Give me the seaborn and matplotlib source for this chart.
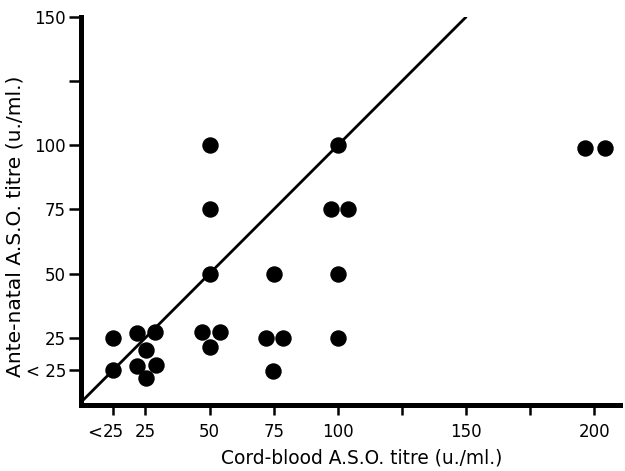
import matplotlib
matplotlib.use("Agg")
import matplotlib.pyplot as plt
import seaborn as sns
import pandas as pd

sns.set_theme(style="white")
plt.rcParams['font.family'] = ['DejaVu Sans']

# Data (cord-blood titre, ante-natal titre); "<25" plotted at 12.5
cord = [12.5, 12.5, 21.7, 28.6, 25.3, 21.9, 29.1, 25.3,
        47.0, 53.9, 50.3, 72.1, 78.6, 74.7,
        50, 50, 50, 75, 100, 97.5, 104, 100, 100,
        196.4, 204.2]
antenatal = [25, 12.5, 26.8, 27.2, 20.3, 14.1, 14.4, 9.2,
             27.2, 27.2, 21.5, 24.8, 24.8, 12.1,
             100, 75, 50, 50, 100, 75, 75, 50, 25,
             99, 99]

x_ticks = [12.5, 25, 50, 75, 100, 125, 150, 175, 200]
x_labels = ["25", "25", "50", "75", "100", "", "150", "", "200"]
y_ticks = [12.5, 25, 50, 75, 100, 125, 150]
y_labels = ["< 25", "25", "50", "75", "100", "", "150"]
line_x = [0, 150]
line_y = [0, 150]

df = pd.DataFrame({"cord": cord, "ante": antenatal})

fig = plt.figure(figsize=(6.25, 4.71), dpi=100)
ax = fig.add_axes([0.13, 0.14, 0.862, 0.824])

sns.lineplot(x=line_x, y=line_y, ax=ax, color="black", linewidth=2.0)
sns.scatterplot(data=df, x="cord", y="ante", ax=ax, color="black",
                s=140, edgecolor="black", linewidth=0, zorder=3)

ax.set_xlim(0, 210)
ax.set_ylim(-1.2, 150)
ax.set_xticks(x_ticks)
ax.set_xticklabels(x_labels, fontsize=12)
ax.set_yticks(y_ticks)
ax.set_yticklabels(y_labels, fontsize=12)
ax.tick_params(axis="x", direction="out", length=7, width=1.8,
               color="black", labelcolor="black", pad=6, bottom=True)
ax.tick_params(axis="y", direction="out", length=9, width=1.8,
               color="black", labelcolor="black", pad=2, left=True)

# "<" sign hanging to the left of the first x tick label
ax.annotate("<", xy=(12.5, 0), xycoords=("data", "axes fraction"),
            xytext=(-8, -13.5), textcoords="offset points",
            ha="right", va="top", fontsize=13, color="black")

for s in ["top", "right"]:
    ax.spines[s].set_visible(False)
for s in ["left", "bottom"]:
    ax.spines[s].set_color("black")
    ax.spines[s].set_linewidth(3.6)

ax.set_xlabel("Cord-blood A.S.O. titre (u./ml.)", fontsize=13.4, color="black")
ax.set_ylabel("Ante-natal A.S.O. titre (u./ml.)", fontsize=14.6, color="black")
ax.xaxis.set_label_coords(0.521, -0.111)
ax.yaxis.set_label_coords(-0.106, 0.46)
ax.grid(False)

fig.savefig("out.png", dpi=100)
